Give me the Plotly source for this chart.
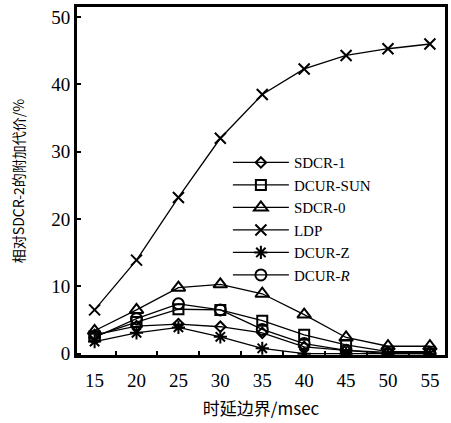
import plotly.graph_objects as go

x_vals = [15, 20, 25, 30, 35, 40, 45, 50, 55]
sdcr1 = [2.8, 4.1, 4.4, 4.0, 3.1, 1.0, 0.5, 0.2, 0.2]
dcur_sun = [2.6, 4.7, 6.6, 6.5, 4.9, 2.8, 1.3, 0.3, 0.3]
sdcr0 = [3.4, 6.5, 9.8, 10.3, 8.9, 5.8, 2.4, 1.1, 1.1]
ldp = [6.5, 13.9, 23.2, 32.0, 38.5, 42.3, 44.3, 45.3, 46.0]
dcur_z = [1.8, 3.1, 3.9, 2.5, 0.8, 0.0, 0.0, 0.0, 0.0]
dcur_r = [2.4, 5.2, 7.4, 6.5, 3.6, 1.5, 0.5, 0.0, 0.0]

series = [
    ("SDCR-1", sdcr1, "diamond-open", 8),
    ("DCUR-SUN", dcur_sun, "square-open", 10),
    ("SDCR-0", sdcr0, "triangle-up-open", 12),
    ("LDP", ldp, "x-thin-open", 11),
    ("DCUR-Z", dcur_z, "asterisk-open", 11),
    ("DCUR-<i>R</i>", dcur_r, "circle-open", 11),
]

fig = go.Figure()
for name, ys, sym, size in series:
    fig.add_trace(go.Scatter(
        x=x_vals, y=ys, name=name, mode="lines+markers",
        line=dict(color="black", width=1.3),
        marker=dict(symbol=sym, size=size, color="black",
                    line=dict(color="black", width=2)),
    ))

font_family = "Liberation Serif, Times New Roman, serif"
cjk = "Noto Sans CJK SC, " + font_family
fig.update_layout(
    width=451, height=423,
    margin=dict(l=77, r=3, t=7, b=68),
    paper_bgcolor="white", plot_bgcolor="white",
    font=dict(family=font_family, size=16, color="black"),
    showlegend=True,
    legend=dict(x=0.41, y=0.6, xanchor="left", yanchor="top",
                bgcolor="rgba(0,0,0,0)", font=dict(size=15, family=font_family),
                tracegroupgap=0, itemwidth=56),
    xaxis=dict(
        range=[12.9, 56.8], tickvals=x_vals, ticktext=[str(v) for v in x_vals],
        ticks="", showgrid=False, zeroline=False,
        showline=True, linecolor="black", linewidth=3, mirror=True,
        minor=dict(tickvals=[17.5, 22.5, 27.5, 32.5, 37.5, 42.5, 47.5, 52.5],
                   ticks="inside", ticklen=4, tickcolor="black", tickwidth=2),
        title=dict(text="时延边界/msec", font=dict(size=17, family=cjk), standoff=14),
        tickfont=dict(size=19),
        ticklabelstandoff=6,
    ),
    yaxis=dict(
        range=[-0.2, 51.5], tickvals=[0, 10, 20, 30, 40, 50],
        ticks="inside", ticklen=4, tickwidth=2, tickcolor="black",
        showgrid=False, zeroline=False,
        showline=True, linecolor="black", linewidth=3, mirror=True,
        title=dict(text="相对SDCR-2的附加代价/%", font=dict(size=14, family=cjk), standoff=24),
        tickfont=dict(size=19),
    ),
)

fig.write_html("out.html", config={"displayModeBar": False},
               post_script="document.body.style.margin='0';document.body.style.padding='0';")
